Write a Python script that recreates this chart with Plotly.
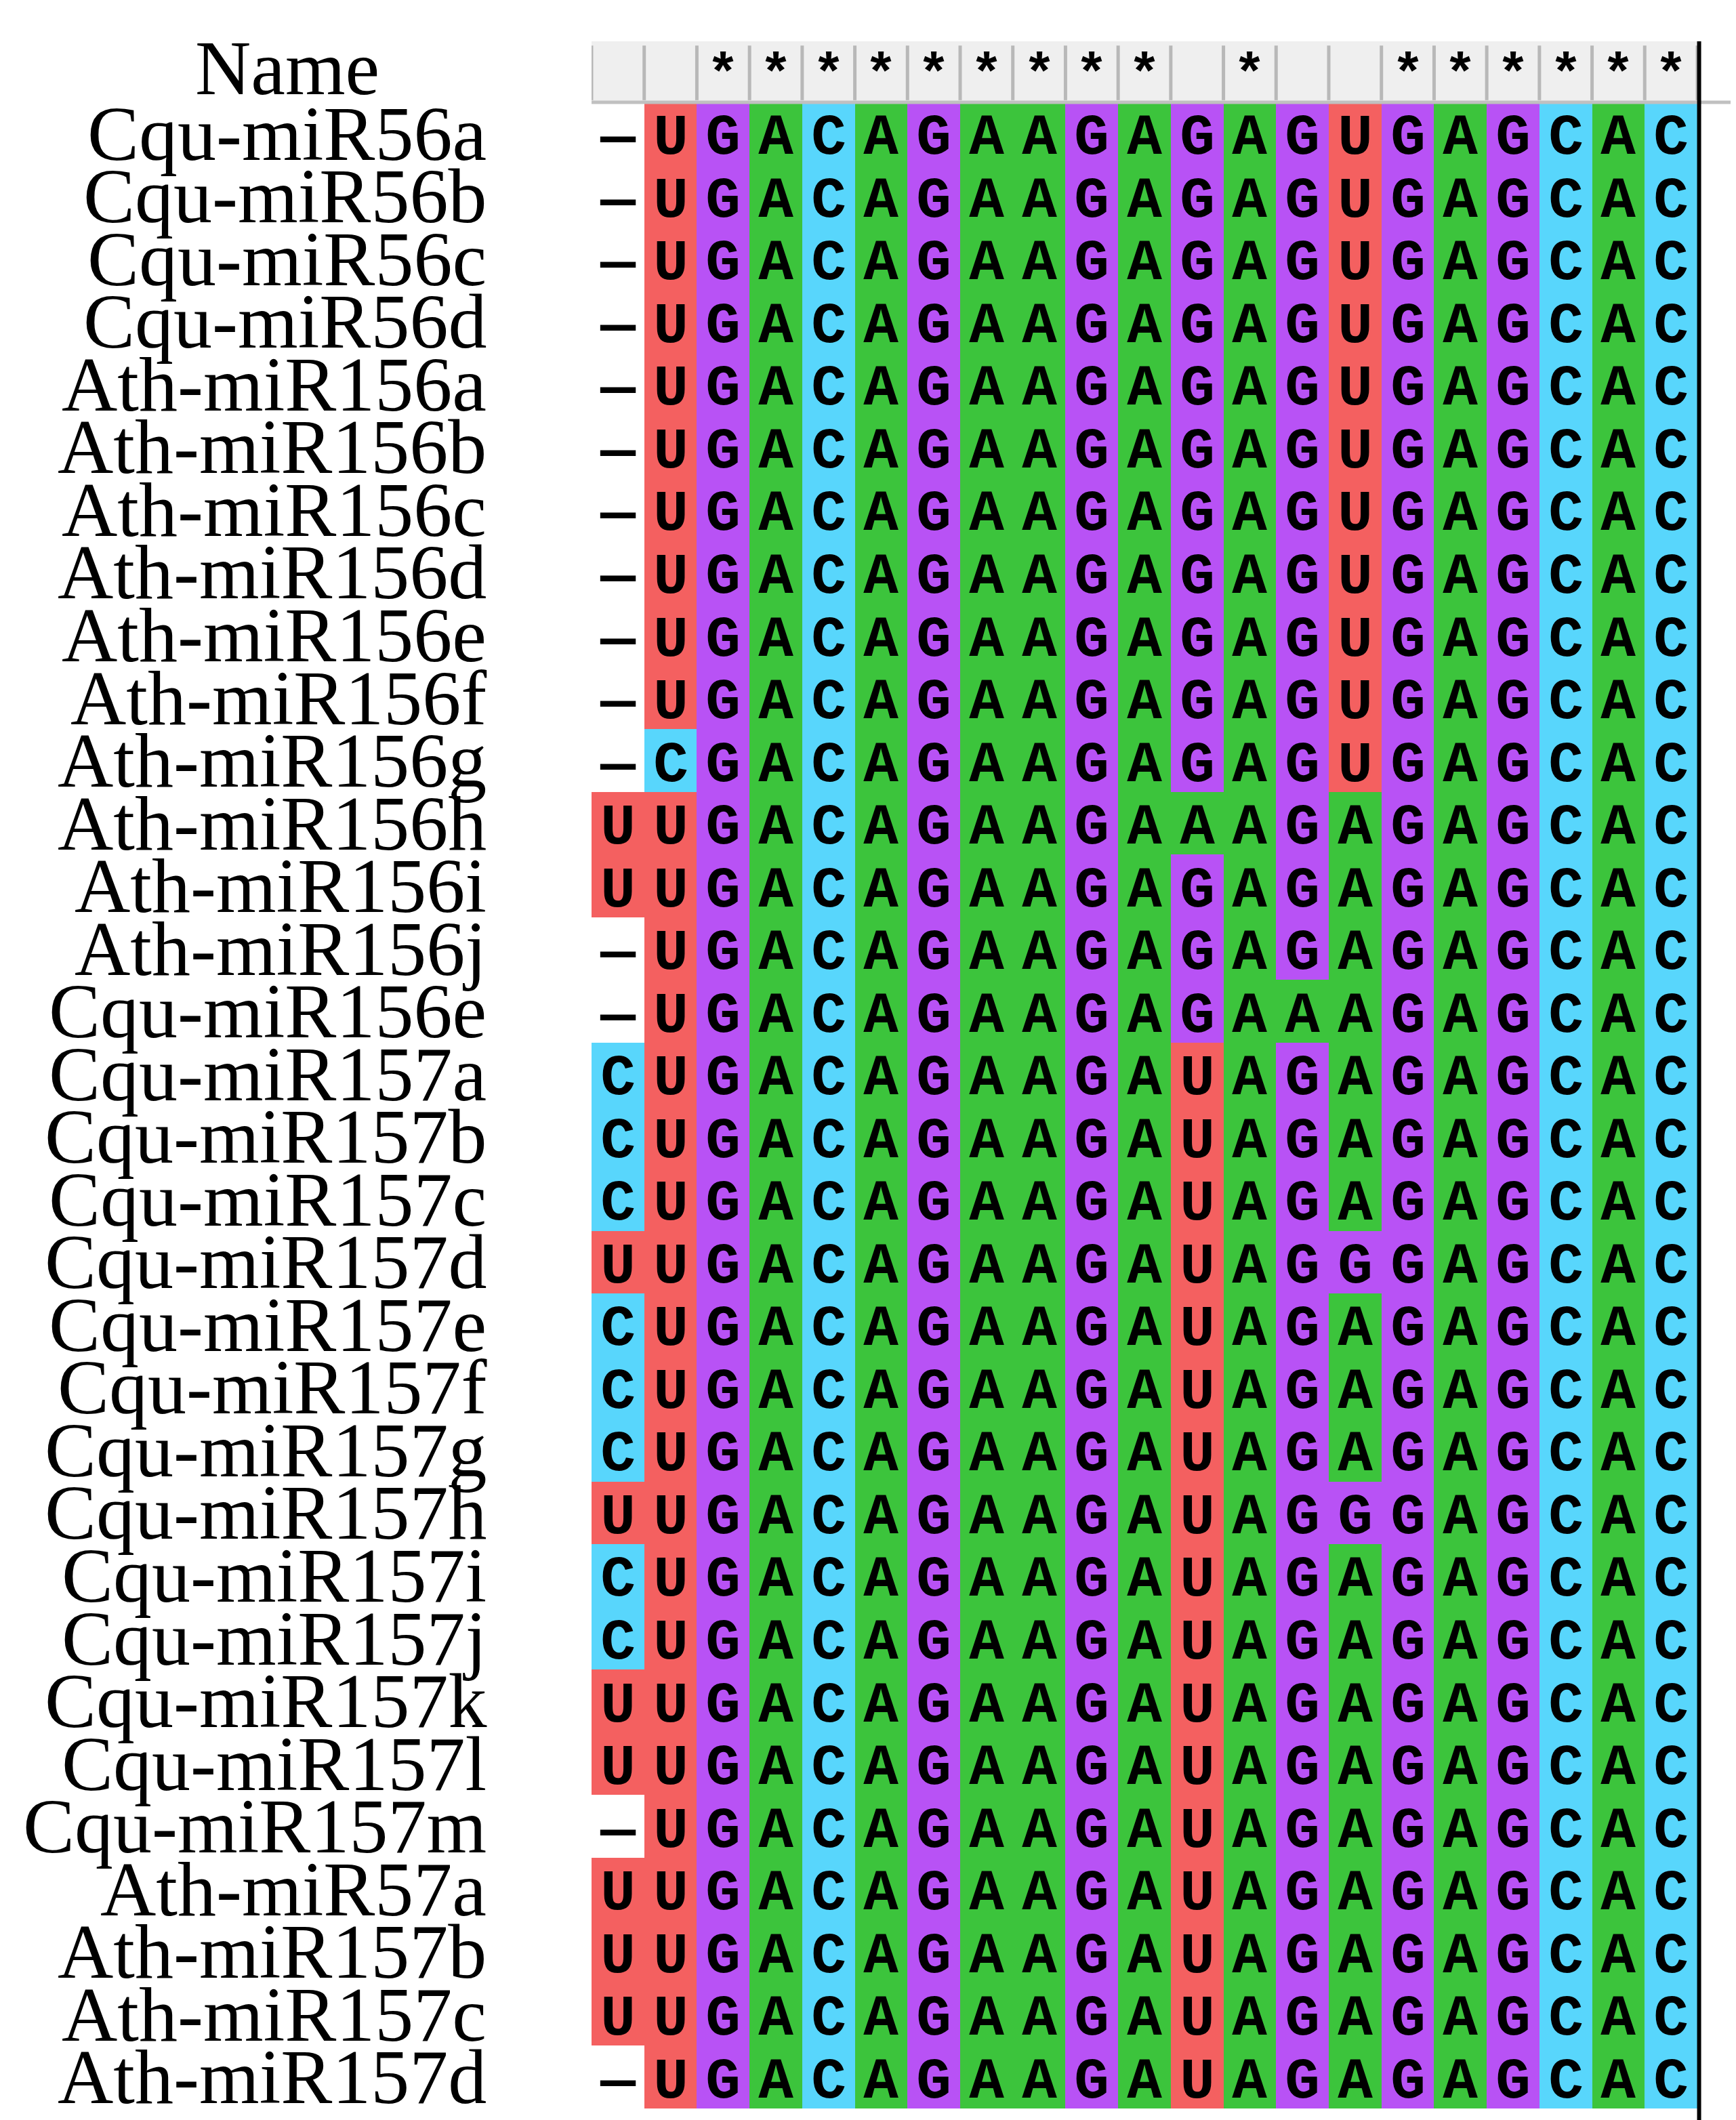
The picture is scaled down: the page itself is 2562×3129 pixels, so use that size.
import plotly.graph_objects as go

names = ["Cqu-miR56a","Cqu-miR56b","Cqu-miR56c","Cqu-miR56d","Ath-miR156a","Ath-miR156b",
         "Ath-miR156c","Ath-miR156d","Ath-miR156e","Ath-miR156f","Ath-miR156g","Ath-miR156h",
         "Ath-miR156i","Ath-miR156j","Cqu-miR156e","Cqu-miR157a","Cqu-miR157b","Cqu-miR157c",
         "Cqu-miR157d","Cqu-miR157e","Cqu-miR157f","Cqu-miR157g","Cqu-miR157h","Cqu-miR157i",
         "Cqu-miR157j","Cqu-miR157k","Cqu-miR157l","Cqu-miR157m","Ath-miR57a","Ath-miR157b",
         "Ath-miR157c","Ath-miR157d"]
seqs = (["-UGACAGAAGAGAGUGAGCAC"] * 10 +
        ["-CGACAGAAGAGAGUGAGCAC",
         "UUGACAGAAGAAAGAGAGCAC",
         "UUGACAGAAGAGAGAGAGCAC",
         "-UGACAGAAGAGAGAGAGCAC",
         "-UGACAGAAGAGAAAGAGCAC",
         "CUGACAGAAGAUAGAGAGCAC",
         "CUGACAGAAGAUAGAGAGCAC",
         "CUGACAGAAGAUAGAGAGCAC",
         "UUGACAGAAGAUAGGGAGCAC",
         "CUGACAGAAGAUAGAGAGCAC",
         "CUGACAGAAGAUAGAGAGCAC",
         "CUGACAGAAGAUAGAGAGCAC",
         "UUGACAGAAGAUAGGGAGCAC",
         "CUGACAGAAGAUAGAGAGCAC",
         "CUGACAGAAGAUAGAGAGCAC",
         "UUGACAGAAGAUAGAGAGCAC",
         "UUGACAGAAGAUAGAGAGCAC",
         "-UGACAGAAGAUAGAGAGCAC",
         "UUGACAGAAGAUAGAGAGCAC",
         "UUGACAGAAGAUAGAGAGCAC",
         "UUGACAGAAGAUAGAGAGCAC",
         "-UGACAGAAGAUAGAGAGCAC"])

code = {"-": 0, "A": 1, "C": 2, "G": 3, "U": 4}
colors = ["#ffffff", "#3cc43c", "#58d6fc", "#b852f5", "#f46060"]
ncol = len(seqs[0])
nrow = len(seqs)
W, H = 2562, 3129

z = [[code[c] for c in s] for s in seqs]
txt = [["\u2014" if c == "-" else c for c in s] for s in seqs]
cols = list(range(ncol))
rows = list(range(nrow))

cs = []
for i, c in enumerate(colors):
    cs += [[i / 5, c], [(i + 1) / 5, c]]

cons = ["*" if len(set(s[j] for s in seqs)) == 1 else "" for j in cols]

fig = go.Figure()
fig.add_trace(go.Heatmap(z=z, x=cols, y=rows, text=txt, texttemplate="%{text}",
                         textfont=dict(family="Liberation Mono", size=86, color="black", weight="bold"),
                         colorscale=cs, zmin=-0.5, zmax=4.5, showscale=False, hoverinfo="skip",
                         xaxis="x", yaxis="y"))
fig.add_trace(go.Heatmap(z=[[0] * ncol], x=cols, y=[0], text=[cons], texttemplate="%{text}",
                         textfont=dict(family="Liberation Mono", size=80, color="black", weight="bold"),
                         colorscale=[[0, "#efefef"], [1, "#efefef"]], showscale=False,
                         hoverinfo="skip", xaxis="x2", yaxis="y2"))

x0, x1 = 865 / W, 2497 / W
ymb, ymt = (H - 3104) / H, (H - 143) / H
yht = (H - 53) / H

shapes = []
for j in range(ncol + 1):
    shapes.append(dict(type="line", xref="x2", yref="paper", x0=j - 0.5, x1=j - 0.5,
                       y0=ymt + 0.001, y1=yht - 0.002, line=dict(color="#b8b8b8", width=5)))
shapes.append(dict(type="line", xref="paper", yref="paper", x0=x0, x1=1, y0=ymt, y1=ymt,
                   line=dict(color="#c0c0c0", width=5)))
shapes.append(dict(type="line", xref="paper", yref="paper", x0=x1 + 0.001, x1=x1 + 0.001,
                   y0=0, y1=yht, line=dict(color="black", width=6)))

ann = [dict(text="Name", xref="paper", yref="paper", x=416 / W, y=(H - 92) / H,
            xanchor="center", yanchor="middle", showarrow=False,
            font=dict(family="Liberation Serif", size=114, color="black"))]
for i, n in enumerate(names):
    ann.append(dict(text=n, xref="paper", yref="y", x=712 / W, y=i, xanchor="right",
                    yanchor="middle", showarrow=False,
                    font=dict(family="Liberation Serif", size=114, color="black")))

fig.update_layout(
    width=W, height=H, margin=dict(l=0, r=0, t=0, b=0),
    paper_bgcolor="white", plot_bgcolor="white",
    xaxis=dict(domain=[x0, x1], range=[-0.5, ncol - 0.5], visible=False),
    yaxis=dict(domain=[ymb, ymt], range=[nrow - 0.5, -0.5], visible=False),
    xaxis2=dict(domain=[x0, 1], range=[-0.5, ncol - 0.5 + (W - 2497) / 77.7],
                visible=False, anchor="y2"),
    yaxis2=dict(domain=[ymt, yht], range=[-0.5, 0.5], visible=False, anchor="x2"),
    shapes=shapes, annotations=ann,
)
fig.write_html("out.html")
